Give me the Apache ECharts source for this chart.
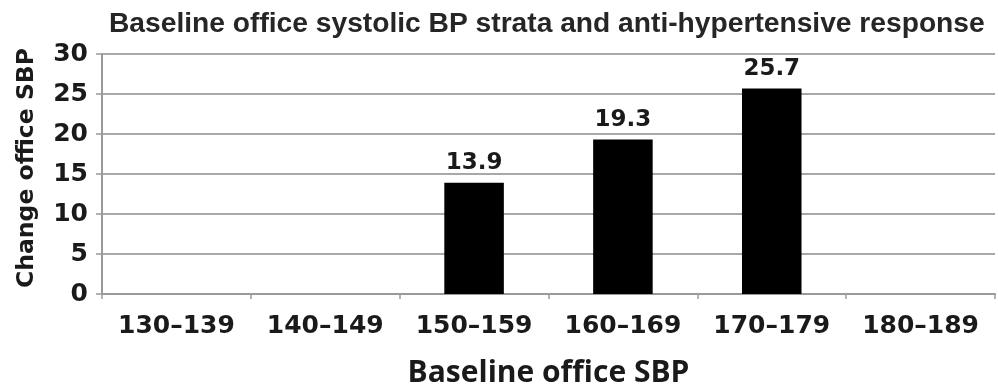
<!DOCTYPE html>
<html>
<head>
<meta charset="utf-8">
<script src="https://cdn.jsdelivr.net/npm/echarts@6/dist/echarts.min.js"></script>
<style>
  html, body { margin: 0; padding: 0; background: #fff; }
  #chart { width: 998px; height: 386px; }
</style>
</head>
<body>
<div id="chart"></div>
<script>
// Baseline SBP strata (mmHg) and mean reduction in office SBP per stratum
const strata = ['130\u2013139', '140\u2013149', '150\u2013159', '160\u2013169', '170\u2013179', '180\u2013189'];
const changeSBP = [null, null, 13.9, 19.3, 25.7, null];
const yTicks = { min: 0, max: 30, interval: 5 };

const chart = echarts.init(document.getElementById('chart'), null, { renderer: 'canvas' });

const boldSans = 'DejaVu Sans';

chart.setOption({
  animation: false,
  backgroundColor: '#ffffff',
  title: {
    text: 'Baseline office systolic BP strata and anti-hypertensive response',
    left: 104,
    top: 5,
    textStyle: {
      fontFamily: 'Liberation Sans',
      fontWeight: 'bold',
      fontSize: 28.2,
      color: '#262626'
    }
  },
  grid: { left: 102, right: 3, top: 54, bottom: 92, containLabel: false, outerBoundsMode: 'none' },
  xAxis: {
    type: 'category',
    data: strata,
    name: 'Baseline office SBP',
    nameLocation: 'middle',
    nameGap: 64,
    nameTextStyle: {
      fontFamily: 'Open Sans',
      fontWeight: 'bold',
      fontSize: 30,
      color: '#1a1a1a'
    },
    axisLine: { lineStyle: { color: '#9a9a9a', width: 2 } },
    axisTick: { show: true, alignWithLabel: false, length: 5, lineStyle: { color: '#9a9a9a', width: 1.5 } },
    axisLabel: {
      interval: 0,
      fontFamily: boldSans,
      fontWeight: 'bold',
      fontSize: 25,
      color: '#1a1a1a',
      margin: 20
    }
  },
  yAxis: {
    type: 'value',
    min: yTicks.min,
    max: yTicks.max,
    interval: yTicks.interval,
    name: 'Change office SBP',
    nameLocation: 'middle',
    nameGap: 63,
    nameRotate: 90,
    nameTextStyle: {
      fontFamily: boldSans,
      fontWeight: 'bold',
      fontSize: 23.5,
      color: '#1a1a1a',
      padding: [0, 0, 0, 12]
    },
    axisLine: { show: true, lineStyle: { color: '#9a9a9a', width: 2 } },
    axisTick: { show: true, length: 6, lineStyle: { color: '#9a9a9a', width: 1.5 } },
    axisLabel: {
      fontFamily: boldSans,
      fontWeight: 'bold',
      fontSize: 25,
      color: '#1a1a1a',
      margin: 14
    },
    splitLine: { show: true, lineStyle: { color: '#a8a8a8', width: 2 } }
  },
  series: [{
    type: 'bar',
    data: changeSBP,
    barWidth: '40%',
    itemStyle: { color: '#000000' },
    label: {
      show: true,
      position: 'top',
      distance: 8,
      fontFamily: boldSans,
      fontWeight: 'bold',
      fontSize: 23,
      color: '#1a1a1a'
    }
  }]
});
</script>
</body>
</html>
